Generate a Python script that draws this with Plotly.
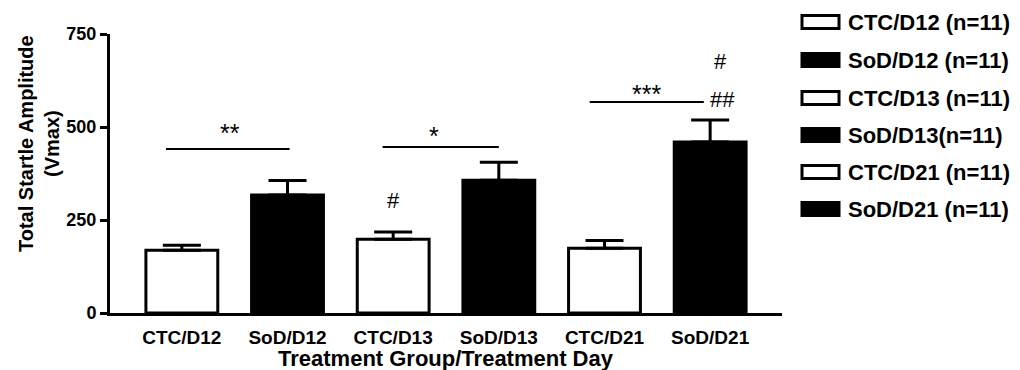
import plotly.graph_objects as go

# Group labels, mean startle amplitude and SEM for each treatment group/day
groups = ["CTC/D12", "SoD/D12", "CTC/D13", "SoD/D13", "CTC/D21", "SoD/D21"]
means = [169, 317, 198, 357, 174, 460]
sems = [13, 39, 20, 48, 21, 59]
fills = ["white", "black", "white", "black", "white", "black"]
legend_labels = ["CTC/D12 (n=11)", "SoD/D12 (n=11)", "CTC/D13 (n=11)",
                 "SoD/D13(n=11)", "CTC/D21 (n=11)", "SoD/D21 (n=11)"]

# Significance brackets: (start x, end x, height, label, label x, label y)
brackets = [(-0.15, 1.02, 441, "**", 0.46, 485),
            (1.90, 3.0, 446, "*", 2.39, 475),
            (3.86, 4.94, 567, "***", 4.40, 588)]
# Extra marks: (x, y, label)
marks = [(2.0, 302, "#"), (5.12, 574, "##"), (5.10, 675, "#")]

FONT = "Liberation Sans, Arial, sans-serif"
x_pos = list(range(len(groups)))

fig = go.Figure()
fig.add_trace(go.Bar(
    x=x_pos, y=means, width=0.68,
    marker=dict(color=fills, line=dict(color="black", width=3)),
    error_y=dict(type="data", symmetric=False, array=sems,
                 arrayminus=[0] * len(sems), color="black",
                 thickness=3, width=19),
    showlegend=False,
))

shapes = []
annotations = []
for x0, x1, h, lab, lx, ly in brackets:
    shapes.append(dict(type="line", xref="x", yref="y", x0=x0, x1=x1, y0=h, y1=h,
                       line=dict(color="black", width=2)))
    annotations.append(dict(x=lx, y=ly, xref="x", yref="y", text=lab, showarrow=False,
                            font=dict(family=FONT, size=25, color="black")))
for mx, my, lab in marks:
    annotations.append(dict(x=mx, y=my, xref="x", yref="y", text=lab, showarrow=False,
                            font=dict(family=FONT, size=22, color="black")))

# Legend drawn as swatches with labels to the right of the plot area
plot_w, plot_h, left, top = 672, 279, 110, 34
row_px = [22, 60, 98, 135, 172, 209]
for py, lab, col in zip(row_px, legend_labels, fills):
    yc = (top + plot_h - py) / plot_h
    hh = 6.5 / plot_h
    shapes.append(dict(type="rect", xref="paper", yref="paper",
                       x0=(802 - left) / plot_w, x1=(839 - left) / plot_w,
                       y0=yc - hh, y1=yc + hh, fillcolor=col,
                       line=dict(color="black", width=3)))
    annotations.append(dict(x=(846 - left) / plot_w, y=yc, xref="paper", yref="paper",
                            xanchor="left", yanchor="middle", text=lab, showarrow=False,
                            font=dict(family=FONT, size=22, color="black", weight="bold")))

# Y-axis title
annotations.append(dict(x=(39 - left) / plot_w, y=(top + plot_h - 144) / plot_h,
                        xref="paper", yref="paper", textangle=-90,
                        text="Total Startle Amplitude<br>(Vmax)", showarrow=False,
                        xanchor="center", yanchor="middle",
                        font=dict(family=FONT, size=20, color="black", weight="bold")))

# X-axis title
annotations.append(dict(x=0.5, y=-(358 - top - plot_h) / plot_h,
                        xref="paper", yref="paper", xanchor="center", yanchor="middle",
                        text="Treatment Group/Treatment Day", showarrow=False,
                        font=dict(family=FONT, size=22, color="black", weight="bold")))

fig.update_layout(
    width=1020, height=370,
    margin=dict(l=110, r=238, t=34, b=57),
    plot_bgcolor="white", paper_bgcolor="white",
    font=dict(family=FONT, color="black"),
    shapes=shapes, annotations=annotations,
    xaxis=dict(range=[-0.68, 5.68], tickmode="array", tickvals=x_pos, ticktext=groups,
               showline=True, linecolor="black", linewidth=3, ticks="",
               showgrid=False, zeroline=False, ticklabelstandoff=5, automargin=False,
               tickfont=dict(family=FONT, size=19, weight="bold")),
    yaxis=dict(range=[0, 750], tickvals=[0, 250, 500, 750],
               showline=True, linecolor="black", linewidth=3, automargin=False,
               ticks="outside", ticklen=7, tickwidth=3, tickcolor="black",
               showgrid=False, zeroline=False,
               tickfont=dict(family=FONT, size=18, weight="bold")),
)

fig.write_html("out.html")
